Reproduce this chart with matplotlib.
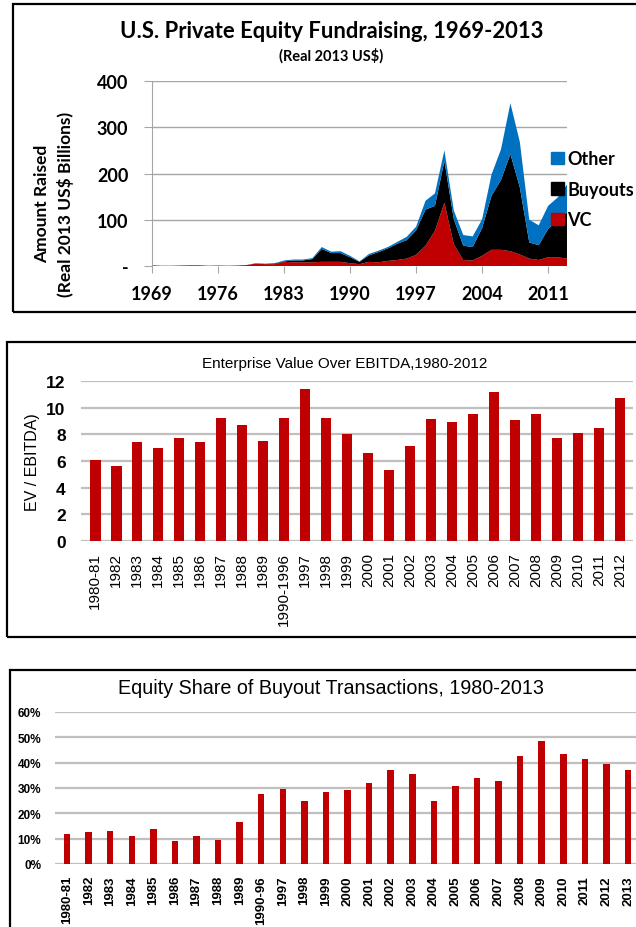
import numpy as np
import matplotlib
matplotlib.use("Agg")
from matplotlib import pyplot as plt
from matplotlib.patches import Rectangle, Patch

# Panel 1: fundraising by type (Real 2013 US$ billions), 1969-2013
years = list(range(1969, 2014))
vc = [1.5, 0.5, 0.5, 1, 1.5, 1.5, 0.5, 1, 0.5, 1, 2,
      5, 4, 4, 9, 8, 8, 8, 9, 9, 9, 6, 4, 9, 8, 11, 13, 16, 24, 44, 76,
      137, 47, 13, 12, 22, 35, 35, 32, 25, 16, 13, 19, 19, 16]
buyouts = [0, 0, 0, 0, 0, 0, 0, 0, 0, 0, 0,
           0.5, 0.5, 1.5, 1, 4, 4, 7, 28, 19, 19, 13, 5, 14, 22, 27, 35, 40, 53, 78, 54,
           90, 54, 31, 29, 60, 117, 151, 210, 145, 35, 32, 61, 79, 100]
other = [0, 0, 0, 0, 0, 0, 0, 0, 0, 0, 0,
         0.5, 0.5, 0.5, 2, 2, 2, 2, 4, 3, 4, 3, 1, 3, 3, 3, 4, 7, 8, 19, 27,
         23, 19, 23, 23, 19, 46, 66, 110, 98, 49, 43, 50, 50, 60]
x_ticks1 = [1969, 1976, 1983, 1990, 1997, 2004, 2011]

# Panel 2: EV / EBITDA
ev_labels = ["1980-81", "1982", "1983", "1984", "1985", "1986", "1987", "1988", "1989",
             "1990-1996", "1997", "1998", "1999", "2000", "2001", "2002", "2003", "2004",
             "2005", "2006", "2007", "2008", "2009", "2010", "2011", "2012"]
ev_values = [6.1, 5.6, 7.4, 6.95, 7.7, 7.4, 9.25, 8.7, 7.5, 9.2, 11.4, 9.25, 8.0, 6.6,
             5.35, 7.1, 9.15, 8.9, 9.5, 11.2, 9.1, 9.5, 7.7, 8.1, 8.5, 10.7]

# Panel 3: equity share of buyouts
eq_labels = ["1980-81", "1982", "1983", "1984", "1985", "1986", "1987", "1988", "1989",
             "1990-96", "1997", "1998", "1999", "2000", "2001", "2002", "2003", "2004",
             "2005", "2006", "2007", "2008", "2009", "2010", "2011", "2012", "2013"]
eq_values = [11.8, 12.6, 12.9, 11.2, 13.9, 9.2, 10.9, 9.6, 16.7, 27.8, 29.5, 24.8, 28.6,
             29.3, 32.0, 37.0, 35.7, 24.8, 30.8, 34.0, 32.8, 42.5, 48.4, 43.6, 41.6, 39.5, 37.0]

RED = "#C00000"
BLUE = "#0070C0"
W, H = 636, 928

fig = plt.figure(figsize=(W / 100, H / 100), dpi=100)


def box(l, t, r, b):
    # pixel box -> figure fraction [left, bottom, width, height]
    return [l / W, 1 - b / H, (r - l) / W, (b - t) / H]


def frame(l, t, r, b):
    fig.patches.append(Rectangle((l / W, 1 - b / H), (r - l) / W, (b - t) / H,
                                 transform=fig.transFigure, fill=False,
                                 edgecolor="black", linewidth=1.6))


frame(13, 5, 660, 313)
frame(7, 343, 660, 638)
frame(10, 671, 660, 960)

###################### Panel 1 ##############################################
cal = "Lato"
ax1 = fig.add_axes(box(152, 82, 567, 267))
ax1.stackplot(years, vc, buyouts, other, colors=[RED, "black", BLUE],
              labels=["VC", "Buyouts", "Other"], linewidth=0)
ax1.set_xlim(1969, 2013)
ax1.set_ylim(0, 400)
ax1.set_yticks([0, 100, 200, 300, 400])
ax1.set_yticklabels(["-", "100", "200", "300", "400"])
ax1.set_xticks(x_ticks1)
ax1.yaxis.grid(True, color="#A6A6A6", linewidth=1)
ax1.set_axisbelow(True)
for s in ["top", "right", "bottom"]:
    ax1.spines[s].set_visible(False)
ax1.spines["left"].set_color("#A6A6A6")
ax1.tick_params(axis="y", length=6, color="#A6A6A6", pad=11)
ax1.tick_params(axis="x", length=5, color="#A6A6A6", pad=9)
for lab in ax1.get_xticklabels() + ax1.get_yticklabels():
    lab.set_fontfamily(cal)
    lab.set_fontweight("bold")
    lab.set_fontsize(13)
h = [Patch(color=BLUE), Patch(color="black"), Patch(color=RED)]
ax1.legend(h, ["Other", "Buyouts", "VC"], loc="center left", bbox_to_anchor=(0.962, 0.414),
           frameon=False, handlelength=0.7, handleheight=0.7, handletextpad=0.2,
           labelspacing=0.75, borderpad=0, borderaxespad=0,
           prop={"family": cal, "weight": "bold", "size": 13})
fig.text(332 / W, 1 - 32 / H, "U.S. Private Equity Fundraising, 1969-2013", ha="center",
         va="center", fontsize=15.8, fontweight="bold", family=cal)
fig.text(331 / W, 1 - 56 / H, "(Real 2013 US$)", ha="center", va="center",
         fontsize=10.5, fontweight="bold", family=cal)
fig.text(54 / W, 1 - 204 / H, "Amount Raised\n(Real 2013 US$ Billions)", ha="center",
         va="center", rotation=90, fontsize=12.5, fontweight="bold", family=cal,
         linespacing=1.5)

###################### Panel 2 ##############################################
ar = "Liberation Sans"
ax2 = fig.add_axes(box(81, 382, 633, 542))
ax2.bar(range(len(ev_values)), ev_values, width=0.5, color=RED)
ax2.set_xlim(-0.68, len(ev_values) - 0.38)
ax2.set_ylim(0, 12)
ax2.set_yticks(range(0, 13, 2))
ax2.set_xticks(range(len(ev_labels)))
ax2.set_xticklabels(ev_labels, rotation=90, family=ar, fontsize=11)
ax2.yaxis.grid(True, color="#BFBFBF", linewidth=1.6)
ax2.set_axisbelow(True)
for s in ax2.spines.values():
    s.set_visible(False)
ax2.tick_params(axis="both", length=0)
ax2.tick_params(axis="y", pad=11)
ax2.tick_params(axis="x", pad=8)
for lab in ax2.get_yticklabels():
    lab.set_fontfamily(ar)
    lab.set_fontweight("bold")
    lab.set_fontsize(12.5)
fig.text(345 / W, 1 - 364 / H, "Enterprise Value Over EBITDA,1980-2012", ha="center",
         va="center", family=ar, fontsize=11)
fig.text(32 / W, 1 - 462 / H, "EV / EBITDA)", rotation=90, ha="center", va="center",
         family=ar, fontsize=11.5)

###################### Panel 3 ##############################################
ax3 = fig.add_axes(box(55, 713, 636, 865))
ax3.bar(range(len(eq_values)), np.array(eq_values) / 100, width=0.3, color=RED)
ax3.set_xlim(-0.56, len(eq_values) - 0.63)
ax3.set_ylim(0, 0.6)
ax3.set_yticks(np.arange(0, 0.61, 0.1))
ax3.set_yticklabels([f"{int(round(v * 100))}%" for v in np.arange(0, 0.61, 0.1)])
ax3.set_xticks(range(len(eq_labels)))
ax3.set_xticklabels(eq_labels, rotation=90)
ax3.yaxis.grid(True, color="#BFBFBF", linewidth=1.6)
ax3.set_axisbelow(True)
for s in ax3.spines.values():
    s.set_visible(False)
ax3.tick_params(axis="both", length=0)
ax3.tick_params(axis="y", pad=10)
ax3.tick_params(axis="x", pad=8)
for lab in ax3.get_yticklabels():
    lab.set_fontfamily(ar)
    lab.set_fontweight("bold")
    lab.set_fontsize(8.5)
for lab in ax3.get_xticklabels():
    lab.set_fontfamily(ar)
    lab.set_fontweight("bold")
    lab.set_fontsize(9.5)
fig.text(331 / W, 1 - 688 / H, "Equity Share of Buyout Transactions, 1980-2013",
         ha="center", va="center", family=ar, fontsize=14.2)

fig.savefig("out.png", dpi=100)
